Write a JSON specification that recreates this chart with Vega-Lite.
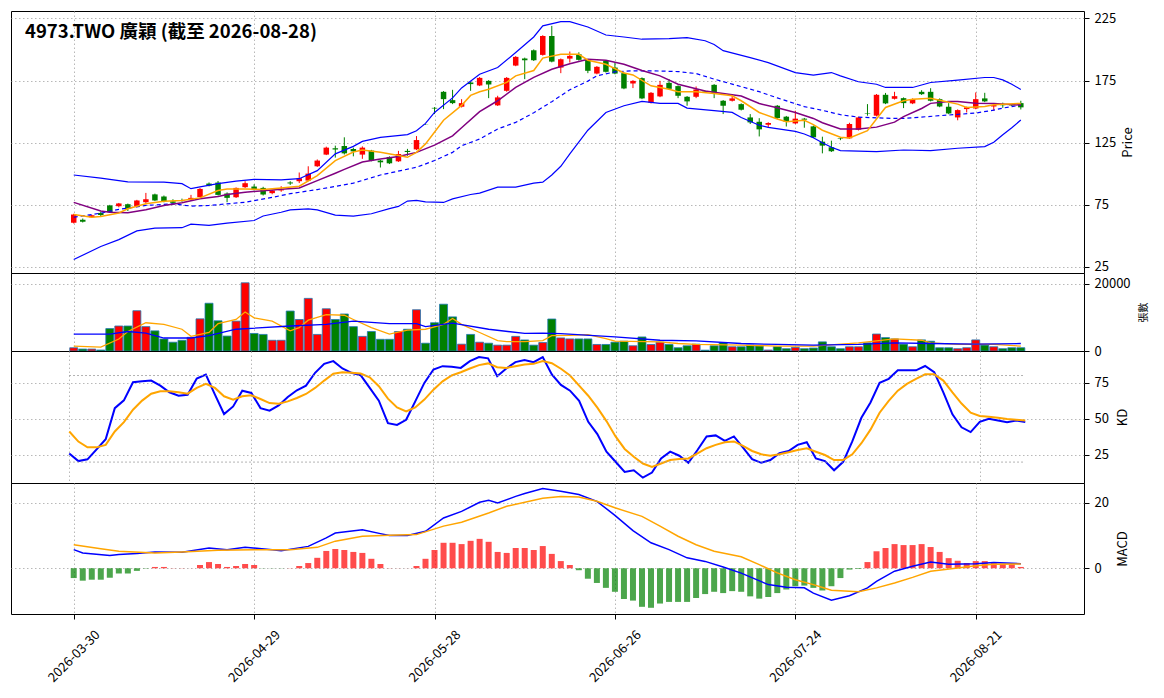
{
  "$schema": "https://vega.github.io/schema/vega-lite/v6.json",
  "background": "white",
  "padding": {"left": 10, "top": 10, "right": 5, "bottom": 5},
  "spacing": 0,
  "bounds": "flush",
  "config": {
    "font": "Noto Sans CJK TC",
    "view": {"stroke": "black", "strokeWidth": 1},
    "axis": {
      "grid": true,
      "gridColor": "#b0b0b0",
      "gridDash": [1.5, 2.5],
      "gridWidth": 0.9,
      "domain": false,
      "labelFont": "Noto Sans CJK TC",
      "labelFontSize": 13,
      "labelColor": "black",
      "labelPadding": 5,
      "tickColor": "black",
      "tickSize": 5,
      "titleFont": "Noto Sans CJK TC",
      "titleFontSize": 13,
      "titleFontWeight": "normal",
      "titleColor": "black"
    }
  },
  "datasets": {
    "bars": [
      {"i":0,"o":60.6,"h":67.8,"l":60,"c":67.2,"v":966,"k":26,"d":41.2,"m":-3},
      {"i":1,"o":63,"h":64,"l":60.8,"c":61.4,"v":580,"k":20.7,"d":34.2,"m":-3.8},
      {"i":2,"o":65,"h":67,"l":64.5,"c":66.6,"v":580,"k":21.9,"d":30.2,"m":-3.5},
      {"i":3,"o":68.5,"h":69.5,"l":66,"c":66.8,"v":290,"k":28.8,"d":30.2,"m":-3.5},
      {"i":4,"o":74.5,"h":75,"l":68.5,"c":69.1,"v":6667,"k":35.8,"d":31.9,"m":-2.9},
      {"i":5,"o":73.9,"h":76.5,"l":73,"c":76.1,"v":7440,"k":57.4,"d":41.2,"m":-1.6},
      {"i":6,"o":75.5,"h":76,"l":70,"c":71.8,"v":7440,"k":62.8,"d":47.7,"m":-1.6},
      {"i":7,"o":73.7,"h":79,"l":73,"c":78.5,"v":11980,"k":75.3,"d":56.3,"m":-0.8},
      {"i":8,"o":77.1,"h":84.6,"l":76.5,"c":79.5,"v":7246,"k":76,"d":62.6,"m":-0.1},
      {"i":9,"o":83.4,"h":84,"l":78,"c":78.5,"v":5990,"k":76.5,"d":67.4,"m":0.4},
      {"i":10,"o":81.7,"h":82.5,"l":77,"c":77.9,"v":3575,"k":73,"d":69.1,"m":0.4},
      {"i":11,"o":77.8,"h":79.5,"l":75.5,"c":76.6,"v":2609,"k":68.4,"d":69.1,"m":0.05},
      {"i":12,"o":78.6,"h":80,"l":77.5,"c":78.4,"v":3188,"k":66,"d":68.4,"m":0.05},
      {"i":13,"o":79,"h":83,"l":78.5,"c":80.6,"v":4058,"k":66.7,"d":67.4,"m":0.02},
      {"i":14,"o":81.2,"h":88.5,"l":81,"c":87.8,"v":9565,"k":77.9,"d":71.4,"m":1},
      {"i":15,"o":92.1,"h":93,"l":89.8,"c":90.5,"v":14203,"k":80.7,"d":74.2,"m":1.9},
      {"i":16,"o":92.9,"h":94.2,"l":82.5,"c":83,"v":8985,"k":66.7,"d":71.4,"m":1.3},
      {"i":17,"o":84.1,"h":85,"l":77.1,"c":80.6,"v":4444,"k":53.3,"d":65.6,"m":0.4},
      {"i":18,"o":81.1,"h":89,"l":80.5,"c":88.6,"v":8889,"k":58.6,"d":63.3,"m":0.7},
      {"i":19,"o":89.2,"h":94,"l":88.5,"c":92.4,"v":20290,"k":69.5,"d":65.6,"m":1.3},
      {"i":20,"o":89.7,"h":91.5,"l":86.5,"c":87.3,"v":5217,"k":67.9,"d":66.3,"m":1},
      {"i":21,"o":88.6,"h":89.5,"l":82.5,"c":83.3,"v":4928,"k":57.4,"d":63.7,"m":-0.05},
      {"i":22,"o":84.4,"h":87,"l":83.5,"c":86.5,"v":3188,"k":55.6,"d":60.9,"m":-0.05},
      {"i":23,"o":86.6,"h":90,"l":85.5,"c":87.4,"v":3188,"k":59.3,"d":60.5,"m":-0.05},
      {"i":24,"o":93,"h":94,"l":91,"c":92.2,"v":11884,"k":65.1,"d":62.1,"m":0.05},
      {"i":25,"o":94,"h":101,"l":92.5,"c":96.4,"v":9372,"k":69.8,"d":64.4,"m":0.7},
      {"i":26,"o":94.5,"h":106,"l":94,"c":100.1,"v":15652,"k":73,"d":67.2,"m":1.6},
      {"i":27,"o":106,"h":111.5,"l":105.5,"c":110.6,"v":4928,"k":81.9,"d":71.4,"m":3.2},
      {"i":28,"o":115.4,"h":121.8,"l":115,"c":121,"v":12560,"k":88.1,"d":76.5,"m":5.3},
      {"i":29,"o":120.5,"h":122.6,"l":113,"c":119.5,"v":9372,"k":90,"d":81.2,"m":5.9},
      {"i":30,"o":122.3,"h":129.3,"l":115.5,"c":116.4,"v":11014,"k":84.9,"d":82.3,"m":5.6},
      {"i":31,"o":119.9,"h":121,"l":114,"c":118,"v":7246,"k":81.9,"d":81.9,"m":5},
      {"i":32,"o":115.4,"h":122,"l":112,"c":121,"v":4348,"k":80.2,"d":81.4,"m":4.7},
      {"i":33,"o":118.6,"h":119.2,"l":110,"c":110.6,"v":5797,"k":71.4,"d":78.8,"m":2.9},
      {"i":34,"o":110.6,"h":111.2,"l":105,"c":109.2,"v":3478,"k":62.6,"d":72.6,"m":1.3},
      {"i":35,"o":113.5,"h":114,"l":107.8,"c":108.4,"v":3478,"k":47,"d":64,"m":0.05},
      {"i":36,"o":110,"h":118.4,"l":109.5,"c":115.9,"v":5797,"k":45.8,"d":57.9,"m":0.03},
      {"i":37,"o":118.4,"h":120,"l":114.5,"c":117.5,"v":6473,"k":49.3,"d":55.1,"m":0.02},
      {"i":38,"o":119.6,"h":130.3,"l":119,"c":127.1,"v":12270,"k":62.1,"d":57.9,"m":0.7},
      {"i":39,"o":139.7,"h":139.8,"l":139.3,"c":139.5,"v":2319,"k":74.9,"d":63.3,"m":2.9},
      {"i":40,"o":153,"h":153.6,"l":148,"c":152.5,"v":8406,"k":84.2,"d":70.2,"m":5.6},
      {"i":41,"o":165.9,"h":166.5,"l":152,"c":160,"v":13913,"k":86.5,"d":76,"m":7.8},
      {"i":42,"o":159.2,"h":167.5,"l":156,"c":156.8,"v":10145,"k":86,"d":80,"m":7.8},
      {"i":43,"o":153.9,"h":160,"l":153.3,"c":156.8,"v":2029,"k":85.3,"d":82.3,"m":7.4},
      {"i":44,"o":173.4,"h":174,"l":166.7,"c":172.1,"v":4928,"k":90,"d":84.9,"m":8.4},
      {"i":45,"o":171,"h":177.8,"l":170.5,"c":177.1,"v":2609,"k":92.8,"d":87.2,"m":9},
      {"i":46,"o":174.7,"h":175.3,"l":160.8,"c":171.8,"v":2319,"k":91.9,"d":88.4,"m":8.1},
      {"i":47,"o":155,"h":162.7,"l":154.5,"c":161.4,"v":1739,"k":79.5,"d":85.8,"m":5},
      {"i":48,"o":166.7,"h":177.8,"l":166,"c":177.1,"v":1739,"k":84.9,"d":85.3,"m":4.7},
      {"i":49,"o":187,"h":194.6,"l":186.5,"c":194,"v":4348,"k":89.3,"d":86.5,"m":6.2},
      {"i":50,"o":192.6,"h":193.4,"l":176.1,"c":191.3,"v":3285,"k":90.7,"d":87.7,"m":6.2},
      {"i":51,"o":199.3,"h":200,"l":190.7,"c":191.3,"v":1739,"k":89.3,"d":88.1,"m":5.6},
      {"i":52,"o":195.6,"h":211.4,"l":195,"c":210.8,"v":2512,"k":92.8,"d":90,"m":6.8},
      {"i":53,"o":210.8,"h":218.9,"l":189.6,"c":190.2,"v":9515,"k":80.8,"d":88.5,"m":4.4},
      {"i":54,"o":185.4,"h":192.7,"l":180.9,"c":192.1,"v":3883,"k":73.5,"d":84.7,"m":2.2},
      {"i":55,"o":192.6,"h":198.3,"l":189.4,"c":194.8,"v":3592,"k":69.5,"d":80,"m":1},
      {"i":56,"o":196.1,"h":197.7,"l":191,"c":191.6,"v":3592,"k":62.4,"d":73,"m":-0.6},
      {"i":57,"o":191.6,"h":192.2,"l":180.9,"c":182.8,"v":3592,"k":47.9,"d":66,"m":-3.2},
      {"i":58,"o":180.6,"h":186.6,"l":180,"c":186,"v":1942,"k":39.4,"d":57.7,"m":-4.5},
      {"i":59,"o":190.8,"h":191.4,"l":181.4,"c":182,"v":1942,"k":27.2,"d":48.4,"m":-6},
      {"i":60,"o":185.4,"h":189.4,"l":180,"c":180.6,"v":2621,"k":20.2,"d":37.8,"m":-7.2},
      {"i":61,"o":180.9,"h":181.5,"l":168,"c":168.6,"v":2913,"k":13.1,"d":29.1,"m":-9.4},
      {"i":62,"o":172.6,"h":175.3,"l":168.9,"c":174.7,"v":1553,"k":14.3,"d":23.7,"m":-9.9},
      {"i":63,"o":176.9,"h":177.5,"l":160,"c":160.6,"v":4175,"k":9.2,"d":19,"m":-11.8},
      {"i":64,"o":157.1,"h":165.7,"l":156.5,"c":165.1,"v":1942,"k":12.7,"d":16.7,"m":-12.1},
      {"i":65,"o":162.2,"h":174.7,"l":161.6,"c":171.5,"v":2621,"k":22.5,"d":19,"m":-10.8},
      {"i":66,"o":173.1,"h":176.1,"l":167.7,"c":168.3,"v":1942,"k":27.2,"d":21.4,"m":-10.3},
      {"i":67,"o":170.5,"h":171.1,"l":160.8,"c":162.7,"v":971,"k":24.4,"d":22.1,"m":-10.3},
      {"i":68,"o":161.9,"h":162.5,"l":154.7,"c":158.2,"v":1553,"k":19.5,"d":22.5,"m":-10.3},
      {"i":69,"o":161.9,"h":170.2,"l":160.8,"c":167.8,"v":2039,"k":28.4,"d":26.1,"m":-9.1},
      {"i":70,"o":166.2,"h":167,"l":165,"c":165.8,"v":250,"k":37.8,"d":29.6,"m":-7.9},
      {"i":71,"o":171.5,"h":172.1,"l":160.8,"c":164.6,"v":1553,"k":38.5,"d":31.9,"m":-7.2},
      {"i":72,"o":158.7,"h":159.3,"l":148,"c":154.7,"v":2427,"k":34.7,"d":33.8,"m":-7.6},
      {"i":73,"o":158.7,"h":162.7,"l":158.1,"c":160.6,"v":1262,"k":37.8,"d":34.3,"m":-7},
      {"i":74,"o":156,"h":156.6,"l":150.9,"c":151.5,"v":1262,"k":30,"d":31.2,"m":-7.2},
      {"i":75,"o":145.3,"h":148,"l":140,"c":141.3,"v":1748,"k":22.1,"d":27.7,"m":-8.6},
      {"i":76,"o":141.8,"h":144.7,"l":130,"c":135.7,"v":1553,"k":19.5,"d":25.4,"m":-9.3},
      {"i":77,"o":139.4,"h":141.4,"l":136.8,"c":140.8,"v":291,"k":21.4,"d":24.4,"m":-8.8},
      {"i":78,"o":154.7,"h":155.3,"l":144.2,"c":144.8,"v":1262,"k":26.1,"d":25.4,"m":-7.6},
      {"i":79,"o":145.9,"h":146.5,"l":138,"c":141.8,"v":680,"k":27.7,"d":26.8,"m":-6.5},
      {"i":80,"o":140.5,"h":150.7,"l":139.9,"c":144.3,"v":1068,"k":31.9,"d":28.4,"m":-5.5},
      {"i":81,"o":144.3,"h":144.9,"l":137,"c":143.5,"v":680,"k":33.8,"d":29.6,"m":-5.3},
      {"i":82,"o":138.1,"h":138.7,"l":128.7,"c":129.3,"v":874,"k":22.5,"d":27.2,"m":-6},
      {"i":83,"o":125.8,"h":129.8,"l":116.4,"c":122.6,"v":2718,"k":20.7,"d":24.9,"m":-6.8},
      {"i":84,"o":121.3,"h":126.6,"l":117.5,"c":118.1,"v":1262,"k":14.3,"d":21.4,"m":-5.5},
      {"i":85,"o":128.6,"h":129.5,"l":127,"c":128.2,"v":680,"k":20.2,"d":21.4,"m":-3},
      {"i":86,"o":128.5,"h":141,"l":128,"c":140,"v":1262,"k":34.3,"d":25.4,"m":-0.4},
      {"i":87,"o":135.4,"h":145.9,"l":134.8,"c":145.3,"v":1262,"k":50.7,"d":33.1,"m":-0.2},
      {"i":88,"o":148.7,"h":156,"l":146.7,"c":148.3,"v":2427,"k":61.3,"d":42.5,"m":1.9},
      {"i":89,"o":146.7,"h":164.1,"l":146.1,"c":163.5,"v":5049,"k":74.9,"d":54.2,"m":5.2},
      {"i":90,"o":163.5,"h":165,"l":156,"c":156.6,"v":3981,"k":77.7,"d":62.4,"m":6.2},
      {"i":91,"o":160.3,"h":165.9,"l":159.7,"c":162.4,"v":3592,"k":83.6,"d":69.5,"m":7.4},
      {"i":92,"o":160.8,"h":161.4,"l":152.8,"c":156.8,"v":2039,"k":83.6,"d":74.2,"m":7.1},
      {"i":93,"o":156.6,"h":160.6,"l":156,"c":160,"v":1262,"k":83.6,"d":77.7,"m":7.1},
      {"i":94,"o":165.9,"h":167.2,"l":163.4,"c":164,"v":3301,"k":86.6,"d":80.8,"m":7.4},
      {"i":95,"o":165.9,"h":168.8,"l":158.2,"c":158.7,"v":2913,"k":82.4,"d":80.8,"m":6.5},
      {"i":96,"o":160,"h":160.6,"l":153.5,"c":154.1,"v":971,"k":68.3,"d":76.5,"m":5},
      {"i":97,"o":153.9,"h":156.8,"l":147.9,"c":148.5,"v":971,"k":53.1,"d":68.3,"m":3.1},
      {"i":98,"o":145.3,"h":151.8,"l":143,"c":151.2,"v":680,"k":44.1,"d":60.6,"m":2.3},
      {"i":99,"o":152,"h":154,"l":149.3,"c":153.4,"v":971,"k":40.8,"d":54.2,"m":1.6},
      {"i":100,"o":152.5,"h":165.4,"l":151.9,"c":160,"v":3301,"k":47.9,"d":51.9,"m":2.2},
      {"i":101,"o":160.6,"h":165.1,"l":157.6,"c":158.2,"v":1748,"k":50,"d":51.4,"m":2.2},
      {"i":102,"o":154.1,"h":155.8,"l":150.7,"c":155.2,"v":1262,"k":48.8,"d":50.7,"m":1.6},
      {"i":103,"o":155.6,"h":157.2,"l":153,"c":155.1,"v":680,"k":47.7,"d":49.8,"m":1.4},
      {"i":104,"o":155.3,"h":155.8,"l":154.4,"c":155,"v":971,"k":48.8,"d":49.3,"m":1.2},
      {"i":105,"o":156.8,"h":158.7,"l":151.7,"c":153.4,"v":971,"k":47.7,"d":48.8,"m":0.4}
    ],
    "ln": [
      {"s":"u","i":0,"v":99},{"s":"u","i":3,"v":96.5},{"s":"u","i":6,"v":93.5},{"s":"u","i":10,"v":93.2},{"s":"u","i":12,"v":92},{"s":"u","i":13,"v":88},{"s":"u","i":14,"v":89.5},{"s":"u","i":16,"v":92},{"s":"u","i":18,"v":94},{"s":"u","i":20,"v":95.5},{"s":"u","i":23,"v":95},{"s":"u","i":25,"v":96},{"s":"u","i":27,"v":102.5},{"s":"u","i":29,"v":116},{"s":"u","i":31,"v":122},{"s":"u","i":32,"v":126},{"s":"u","i":34,"v":129.3},{"s":"u","i":37,"v":131.5},{"s":"u","i":38,"v":134.6},{"s":"u","i":39,"v":140.5},{"s":"u","i":40,"v":149.3},{"s":"u","i":42,"v":161},{"s":"u","i":43,"v":169},{"s":"u","i":45,"v":180},{"s":"u","i":47,"v":185.4},{"s":"u","i":49,"v":197.5},{"s":"u","i":51,"v":210},{"s":"u","i":52,"v":219},{"s":"u","i":54,"v":222.3},{"s":"u","i":55,"v":222.3},{"s":"u","i":57,"v":218},{"s":"u","i":59,"v":211.6},{"s":"u","i":61,"v":210},{"s":"u","i":63,"v":208.2},{"s":"u","i":66,"v":208.7},{"s":"u","i":68,"v":209.5},{"s":"u","i":70,"v":207},{"s":"u","i":71,"v":204},{"s":"u","i":72,"v":199},{"s":"u","i":75,"v":193.4},{"s":"u","i":77,"v":189.4},{"s":"u","i":80,"v":181.4},{"s":"u","i":82,"v":179.3},{"s":"u","i":84,"v":181.4},{"s":"u","i":85,"v":178.7},{"s":"u","i":87,"v":174},{"s":"u","i":89,"v":172},{"s":"u","i":90,"v":169.4},{"s":"u","i":93,"v":169.4},{"s":"u","i":95,"v":173.4},{"s":"u","i":98,"v":175.3},{"s":"u","i":101,"v":177.4},{"s":"u","i":102,"v":177.4},{"s":"u","i":103,"v":175.5},{"s":"u","i":104,"v":172},{"s":"u","i":105,"v":167.8},
      {"s":"lo","i":0,"v":31},{"s":"lo","i":3,"v":41.5},{"s":"lo","i":5,"v":47},{"s":"lo","i":7,"v":54},{"s":"lo","i":9,"v":56.3},{"s":"lo","i":12,"v":56.6},{"s":"lo","i":13,"v":59.5},{"s":"lo","i":15,"v":58.4},{"s":"lo","i":17,"v":60.3},{"s":"lo","i":20,"v":62.4},{"s":"lo","i":21,"v":66},{"s":"lo","i":23,"v":69},{"s":"lo","i":24,"v":71},{"s":"lo","i":26,"v":71.8},{"s":"lo","i":27,"v":71},{"s":"lo","i":29,"v":66.7},{"s":"lo","i":31,"v":65.9},{"s":"lo","i":33,"v":67.8},{"s":"lo","i":35,"v":72},{"s":"lo","i":36,"v":73.7},{"s":"lo","i":37,"v":78},{"s":"lo","i":38,"v":78.5},{"s":"lo","i":39,"v":77.4},{"s":"lo","i":41,"v":76.9},{"s":"lo","i":42,"v":79.8},{"s":"lo","i":44,"v":83.3},{"s":"lo","i":45,"v":84.4},{"s":"lo","i":47,"v":89.2},{"s":"lo","i":49,"v":89.2},{"s":"lo","i":51,"v":92.4},{"s":"lo","i":52,"v":93.2},{"s":"lo","i":53,"v":99},{"s":"lo","i":54,"v":106},{"s":"lo","i":55,"v":116},{"s":"lo","i":57,"v":135},{"s":"lo","i":59,"v":149.3},{"s":"lo","i":61,"v":154.7},{"s":"lo","i":63,"v":158.2},{"s":"lo","i":65,"v":156.6},{"s":"lo","i":67,"v":156.6},{"s":"lo","i":68,"v":152.8},{"s":"lo","i":71,"v":150.7},{"s":"lo","i":73,"v":149.3},{"s":"lo","i":74,"v":145.3},{"s":"lo","i":76,"v":139},{"s":"lo","i":77,"v":137.3},{"s":"lo","i":80,"v":134.1},{"s":"lo","i":81,"v":132},{"s":"lo","i":82,"v":129},{"s":"lo","i":83,"v":125},{"s":"lo","i":84,"v":121.3},{"s":"lo","i":85,"v":118.6},{"s":"lo","i":89,"v":117.8},{"s":"lo","i":92,"v":119.1},{"s":"lo","i":95,"v":118.6},{"s":"lo","i":98,"v":120.5},{"s":"lo","i":101,"v":121.8},{"s":"lo","i":102,"v":125.3},{"s":"lo","i":103,"v":131.4},{"s":"lo","i":104,"v":137},{"s":"lo","i":105,"v":143.2},
      {"s":"mid","i":0,"v":65},{"s":"mid","i":3,"v":68.3},{"s":"mid","i":5,"v":71.3},{"s":"mid","i":8,"v":74.5},{"s":"mid","i":11,"v":75.8},{"s":"mid","i":13,"v":74},{"s":"mid","i":15,"v":74.5},{"s":"mid","i":19,"v":77.1},{"s":"mid","i":22,"v":81},{"s":"mid","i":24,"v":84},{"s":"mid","i":27,"v":87.3},{"s":"mid","i":31,"v":92.4},{"s":"mid","i":34,"v":99},{"s":"mid","i":38,"v":105.2},{"s":"mid","i":40,"v":110.6},{"s":"mid","i":42,"v":117.2},{"s":"mid","i":43,"v":122.5},{"s":"mid","i":45,"v":127.9},{"s":"mid","i":47,"v":136},{"s":"mid","i":49,"v":141.3},{"s":"mid","i":51,"v":149},{"s":"mid","i":53,"v":158},{"s":"mid","i":55,"v":167.5},{"s":"mid","i":57,"v":174.5},{"s":"mid","i":58,"v":178.7},{"s":"mid","i":60,"v":182},{"s":"mid","i":62,"v":182.8},{"s":"mid","i":64,"v":182.8},{"s":"mid","i":67,"v":182.2},{"s":"mid","i":69,"v":180.6},{"s":"mid","i":71,"v":176.1},{"s":"mid","i":73,"v":172.1},{"s":"mid","i":76,"v":166},{"s":"mid","i":78,"v":161},{"s":"mid","i":81,"v":154},{"s":"mid","i":83,"v":151},{"s":"mid","i":85,"v":147.5},{"s":"mid","i":87,"v":145.5},{"s":"mid","i":91,"v":144.5},{"s":"mid","i":92,"v":144.5},{"s":"mid","i":96,"v":146.7},{"s":"mid","i":100,"v":148.8},{"s":"mid","i":102,"v":151.2},{"s":"mid","i":103,"v":152.8},{"s":"mid","i":105,"v":155.2},
      {"s":"m10","i":0,"v":77},{"s":"m10","i":3,"v":70},{"s":"m10","i":4,"v":69},{"s":"m10","i":6,"v":68.6},{"s":"m10","i":8,"v":71},{"s":"m10","i":10,"v":74.5},{"s":"m10","i":12,"v":76.6},{"s":"m10","i":14,"v":79.8},{"s":"m10","i":16,"v":81.7},{"s":"m10","i":17,"v":83.3},{"s":"m10","i":19,"v":85.2},{"s":"m10","i":23,"v":87.5},{"s":"m10","i":25,"v":88.6},{"s":"m10","i":27,"v":94.5},{"s":"m10","i":29,"v":100.4},{"s":"m10","i":30,"v":103.5},{"s":"m10","i":32,"v":109.5},{"s":"m10","i":34,"v":111.9},{"s":"m10","i":36,"v":113.8},{"s":"m10","i":38,"v":117.2},{"s":"m10","i":40,"v":123},{"s":"m10","i":42,"v":130.5},{"s":"m10","i":43,"v":137},{"s":"m10","i":45,"v":150},{"s":"m10","i":47,"v":158.7},{"s":"m10","i":49,"v":169.4},{"s":"m10","i":51,"v":177.5},{"s":"m10","i":53,"v":184},{"s":"m10","i":55,"v":188.5},{"s":"m10","i":57,"v":192.1},{"s":"m10","i":59,"v":191.3},{"s":"m10","i":61,"v":188.1},{"s":"m10","i":63,"v":183},{"s":"m10","i":65,"v":178.7},{"s":"m10","i":67,"v":172},{"s":"m10","i":70,"v":166.5},{"s":"m10","i":72,"v":164.5},{"s":"m10","i":74,"v":162.5},{"s":"m10","i":76,"v":156.5},{"s":"m10","i":78,"v":153},{"s":"m10","i":80,"v":149.3},{"s":"m10","i":82,"v":144.5},{"s":"m10","i":83,"v":141},{"s":"m10","i":85,"v":136},{"s":"m10","i":87,"v":136},{"s":"m10","i":89,"v":137.5},{"s":"m10","i":91,"v":141.5},{"s":"m10","i":92,"v":145.9},{"s":"m10","i":94,"v":152.5},{"s":"m10","i":95,"v":156.6},{"s":"m10","i":97,"v":158.2},{"s":"m10","i":98,"v":158.2},{"s":"m10","i":100,"v":156.8},{"s":"m10","i":102,"v":156.6},{"s":"m10","i":105,"v":155.2},
      {"s":"m5","i":0,"v":67.2},{"s":"m5","i":2,"v":65.1},{"s":"m5","i":3,"v":65.6},{"s":"m5","i":5,"v":68.5},{"s":"m5","i":6,"v":71.8},{"s":"m5","i":8,"v":75.8},{"s":"m5","i":10,"v":77.9},{"s":"m5","i":12,"v":78.5},{"s":"m5","i":14,"v":80.6},{"s":"m5","i":16,"v":86.5},{"s":"m5","i":17,"v":87.8},{"s":"m5","i":19,"v":87.8},{"s":"m5","i":21,"v":87.3},{"s":"m5","i":23,"v":88.5},{"s":"m5","i":25,"v":90},{"s":"m5","i":27,"v":98.5},{"s":"m5","i":29,"v":110.6},{"s":"m5","i":31,"v":117.5},{"s":"m5","i":32,"v":119.1},{"s":"m5","i":34,"v":117.2},{"s":"m5","i":36,"v":114.6},{"s":"m5","i":37,"v":113.2},{"s":"m5","i":38,"v":117.2},{"s":"m5","i":39,"v":124},{"s":"m5","i":41,"v":143},{"s":"m5","i":43,"v":155},{"s":"m5","i":44,"v":163},{"s":"m5","i":45,"v":166},{"s":"m5","i":46,"v":168},{"s":"m5","i":48,"v":173.5},{"s":"m5","i":49,"v":178.7},{"s":"m5","i":51,"v":183},{"s":"m5","i":52,"v":193},{"s":"m5","i":54,"v":196.1},{"s":"m5","i":56,"v":196.1},{"s":"m5","i":57,"v":191.3},{"s":"m5","i":59,"v":188.1},{"s":"m5","i":61,"v":181},{"s":"m5","i":62,"v":179.5},{"s":"m5","i":64,"v":170.7},{"s":"m5","i":66,"v":168},{"s":"m5","i":67,"v":165.9},{"s":"m5","i":69,"v":165.9},{"s":"m5","i":71,"v":164.6},{"s":"m5","i":73,"v":162.7},{"s":"m5","i":74,"v":158.7},{"s":"m5","i":76,"v":149.3},{"s":"m5","i":78,"v":144},{"s":"m5","i":79,"v":141.8},{"s":"m5","i":81,"v":143},{"s":"m5","i":82,"v":139.5},{"s":"m5","i":83,"v":135},{"s":"m5","i":85,"v":129.3},{"s":"m5","i":86,"v":128.7},{"s":"m5","i":88,"v":134.6},{"s":"m5","i":89,"v":144},{"s":"m5","i":90,"v":153.3},{"s":"m5","i":92,"v":158.7},{"s":"m5","i":93,"v":160},{"s":"m5","i":95,"v":160.8},{"s":"m5","i":96,"v":159.2},{"s":"m5","i":98,"v":156},{"s":"m5","i":99,"v":153.3},{"s":"m5","i":101,"v":154.1},{"s":"m5","i":102,"v":155.5},{"s":"m5","i":105,"v":156.6},
      {"s":"v5","i":0,"v":1449},{"s":"v5","i":3,"v":1159},{"s":"v5","i":5,"v":3575},{"s":"v5","i":6,"v":5800},{"s":"v5","i":8,"v":8406},{"s":"v5","i":10,"v":7923},{"s":"v5","i":12,"v":6473},{"s":"v5","i":13,"v":4348},{"s":"v5","i":15,"v":5507},{"s":"v5","i":16,"v":8116},{"s":"v5","i":18,"v":9372},{"s":"v5","i":19,"v":11594},{"s":"v5","i":20,"v":9855},{"s":"v5","i":22,"v":8889},{"s":"v5","i":24,"v":5990},{"s":"v5","i":25,"v":6957},{"s":"v5","i":26,"v":9179},{"s":"v5","i":28,"v":10821},{"s":"v5","i":30,"v":10628},{"s":"v5","i":31,"v":9372},{"s":"v5","i":33,"v":6957},{"s":"v5","i":35,"v":5024},{"s":"v5","i":37,"v":6184},{"s":"v5","i":39,"v":6473},{"s":"v5","i":41,"v":7923},{"s":"v5","i":42,"v":9662},{"s":"v5","i":43,"v":7923},{"s":"v5","i":45,"v":5507},{"s":"v5","i":47,"v":3092},{"s":"v5","i":48,"v":2802},{"s":"v5","i":50,"v":2802},{"s":"v5","i":52,"v":3092},{"s":"v5","i":53,"v":4563},{"s":"v5","i":55,"v":4660},{"s":"v5","i":57,"v":4854},{"s":"v5","i":59,"v":3689},{"s":"v5","i":60,"v":2913},{"s":"v5","i":65,"v":2718},{"s":"v5","i":67,"v":2233},{"s":"v5","i":69,"v":1942},{"s":"v5","i":74,"v":1748},{"s":"v5","i":78,"v":1456},{"s":"v5","i":82,"v":1456},{"s":"v5","i":87,"v":2427},{"s":"v5","i":91,"v":3592},{"s":"v5","i":94,"v":3204},{"s":"v5","i":95,"v":2427},{"s":"v5","i":98,"v":1942},{"s":"v5","i":100,"v":2039},{"s":"v5","i":102,"v":1942},{"s":"v5","i":105,"v":1456},
      {"s":"v20","i":0,"v":5024},{"s":"v20","i":4,"v":5024},{"s":"v20","i":6,"v":5797},{"s":"v20","i":8,"v":5300},{"s":"v20","i":10,"v":3865},{"s":"v20","i":13,"v":3865},{"s":"v20","i":15,"v":4541},{"s":"v20","i":18,"v":6473},{"s":"v20","i":24,"v":7440},{"s":"v20","i":28,"v":7923},{"s":"v20","i":31,"v":8889},{"s":"v20","i":35,"v":8116},{"s":"v20","i":38,"v":8116},{"s":"v20","i":39,"v":7246},{"s":"v20","i":42,"v":8309},{"s":"v20","i":46,"v":6473},{"s":"v20","i":50,"v":5217},{"s":"v20","i":52,"v":5300},{"s":"v20","i":54,"v":5146},{"s":"v20","i":60,"v":4175},{"s":"v20","i":65,"v":3204},{"s":"v20","i":69,"v":3010},{"s":"v20","i":74,"v":2233},{"s":"v20","i":78,"v":1942},{"s":"v20","i":82,"v":1748},{"s":"v20","i":87,"v":1942},{"s":"v20","i":91,"v":2427},{"s":"v20","i":95,"v":2233},{"s":"v20","i":100,"v":2039},{"s":"v20","i":105,"v":2233},
      {"s":"dif","i":0,"v":5.7},{"s":"dif","i":1,"v":4.7},{"s":"dif","i":4,"v":3.9},{"s":"dif","i":5,"v":4.2},{"s":"dif","i":7,"v":4.5},{"s":"dif","i":9,"v":5},{"s":"dif","i":12,"v":4.9},{"s":"dif","i":15,"v":6.2},{"s":"dif","i":17,"v":5.7},{"s":"dif","i":19,"v":6.4},{"s":"dif","i":22,"v":5.7},{"s":"dif","i":23,"v":5.4},{"s":"dif","i":26,"v":6.7},{"s":"dif","i":28,"v":9.3},{"s":"dif","i":29,"v":10.8},{"s":"dif","i":32,"v":11.8},{"s":"dif","i":34,"v":10.6},{"s":"dif","i":35,"v":10},{"s":"dif","i":37,"v":10},{"s":"dif","i":39,"v":11.3},{"s":"dif","i":41,"v":15.4},{"s":"dif","i":43,"v":17.4},{"s":"dif","i":45,"v":20.2},{"s":"dif","i":46,"v":20.8},{"s":"dif","i":47,"v":20},{"s":"dif","i":49,"v":22},{"s":"dif","i":50,"v":22.9},{"s":"dif","i":52,"v":24.4},{"s":"dif","i":54,"v":23.6},{"s":"dif","i":56,"v":22.6},{"s":"dif","i":58,"v":20.5},{"s":"dif","i":60,"v":16.2},{"s":"dif","i":62,"v":11.5},{"s":"dif","i":64,"v":7.8},{"s":"dif","i":66,"v":5.7},{"s":"dif","i":68,"v":3.2},{"s":"dif","i":70,"v":2.1},{"s":"dif","i":72,"v":0.4},{"s":"dif","i":74,"v":-1.5},{"s":"dif","i":77,"v":-5},{"s":"dif","i":79,"v":-5.8},{"s":"dif","i":81,"v":-6},{"s":"dif","i":82,"v":-7.6},{"s":"dif","i":84,"v":-9.8},{"s":"dif","i":86,"v":-8.4},{"s":"dif","i":88,"v":-6},{"s":"dif","i":89,"v":-4},{"s":"dif","i":91,"v":-0.9},{"s":"dif","i":93,"v":0.6},{"s":"dif","i":95,"v":1.9},{"s":"dif","i":97,"v":1.2},{"s":"dif","i":100,"v":1.4},{"s":"dif","i":102,"v":1.8},{"s":"dif","i":105,"v":1.4},
      {"s":"sig","i":0,"v":7.2},{"s":"sig","i":3,"v":6},{"s":"sig","i":5,"v":5.2},{"s":"sig","i":9,"v":4.7},{"s":"sig","i":12,"v":5},{"s":"sig","i":16,"v":5.5},{"s":"sig","i":20,"v":5.7},{"s":"sig","i":24,"v":5.7},{"s":"sig","i":27,"v":6.4},{"s":"sig","i":29,"v":8.3},{"s":"sig","i":32,"v":9.8},{"s":"sig","i":35,"v":10.1},{"s":"sig","i":38,"v":10.3},{"s":"sig","i":41,"v":12.9},{"s":"sig","i":43,"v":14.1},{"s":"sig","i":46,"v":16.9},{"s":"sig","i":48,"v":19},{"s":"sig","i":52,"v":21.4},{"s":"sig","i":54,"v":22},{"s":"sig","i":56,"v":21.8},{"s":"sig","i":58,"v":20.5},{"s":"sig","i":60,"v":18.5},{"s":"sig","i":63,"v":15.9},{"s":"sig","i":65,"v":12.9},{"s":"sig","i":67,"v":9.8},{"s":"sig","i":69,"v":7.2},{"s":"sig","i":71,"v":5.2},{"s":"sig","i":74,"v":3.5},{"s":"sig","i":76,"v":1.1},{"s":"sig","i":78,"v":-1.4},{"s":"sig","i":80,"v":-3.5},{"s":"sig","i":82,"v":-5},{"s":"sig","i":84,"v":-6.7},{"s":"sig","i":87,"v":-7.2},{"s":"sig","i":89,"v":-6},{"s":"sig","i":91,"v":-4.5},{"s":"sig","i":93,"v":-2.8},{"s":"sig","i":95,"v":-0.9},{"s":"sig","i":98,"v":0.1},{"s":"sig","i":100,"v":0.8},{"s":"sig","i":102,"v":1.2},{"s":"sig","i":105,"v":1.3}
    ]
  },
  "vconcat": [
    {
      "width": 1073,
      "height": 262,
      "layer": [
        {
          "data": {"name": "bars"},
          "mark": {"type": "rule", "strokeWidth": 1},
          "encoding": {
            "x": {"field": "i", "type": "quantitative", "scale": {"domain": [-6.4, 111.45], "nice": false, "zero": false},
                  "axis": {"values": [0, 20, 40, 60, 80, 100], "labels": false, "ticks": false, "title": null}},
            "y": {"field": "l", "type": "quantitative", "scale": {"domain": [20.17, 230.9], "nice": false, "zero": false},
                  "axis": {"orient": "right", "values": [25, 50, 75, 100, 125, 150, 175, 200, 225], "title": "Price", "titleAngle": -90, "titleBaseline": "top", "titlePadding": 6}},
            "y2": {"field": "h"},
            "color": {"condition": {"test": "datum.c >= datum.o", "value": "#ff0000"}, "value": "#008000"}
          }
        },
        {
          "data": {"name": "bars"},
          "mark": {"type": "bar", "width": 5.5},
          "encoding": {
            "x": {"field": "i", "type": "quantitative"},
            "y": {"field": "o", "type": "quantitative"},
            "y2": {"field": "c"},
            "color": {"condition": {"test": "datum.c >= datum.o", "value": "#ff0000"}, "value": "#008000"}
          }
        },
        {
          "data": {"name": "ln"},
          "transform": [{"filter": "datum.s === 'u' || datum.s === 'lo'"}],
          "mark": {"type": "line", "color": "blue", "strokeWidth": 1.2},
          "encoding": {"x": {"field": "i", "type": "quantitative"}, "y": {"field": "v", "type": "quantitative"}, "detail": {"field": "s"}}
        },
        {
          "data": {"name": "ln"},
          "transform": [{"filter": "datum.s === 'mid'"}],
          "mark": {"type": "line", "color": "blue", "strokeWidth": 1.2, "strokeDash": [4, 3]},
          "encoding": {"x": {"field": "i", "type": "quantitative"}, "y": {"field": "v", "type": "quantitative"}}
        },
        {
          "data": {"name": "ln"},
          "transform": [{"filter": "datum.s === 'm10'"}],
          "mark": {"type": "line", "color": "purple", "strokeWidth": 1.5},
          "encoding": {"x": {"field": "i", "type": "quantitative"}, "y": {"field": "v", "type": "quantitative"}}
        },
        {
          "data": {"name": "ln"},
          "transform": [{"filter": "datum.s === 'm5'"}],
          "mark": {"type": "line", "color": "orange", "strokeWidth": 1.5},
          "encoding": {"x": {"field": "i", "type": "quantitative"}, "y": {"field": "v", "type": "quantitative"}}
        },
        {
          "data": {"values": [{"t": "4973.TWO 廣穎 (截至 2026-08-28)"}]},
          "mark": {"type": "text", "align": "left", "baseline": "middle", "fontSize": 18.5, "fontWeight": "bold", "color": "black", "font": "Noto Sans CJK TC"},
          "encoding": {"x": {"datum": -5.4, "type": "quantitative"}, "y": {"datum": 214, "type": "quantitative"}, "text": {"field": "t"}}
        }
      ]
    },
    {
      "width": 1073,
      "height": 78,
      "layer": [
        {
          "data": {"name": "bars"},
          "mark": {"type": "bar", "width": 8, "stroke": "#1f77b4", "strokeWidth": 0.8},
          "encoding": {
            "x": {"field": "i", "type": "quantitative", "scale": {"domain": [-6.4, 111.45], "nice": false, "zero": false},
                  "axis": {"values": [0, 20, 40, 60, 80, 100], "labels": false, "ticks": false, "title": null}},
            "y": {"field": "v", "type": "quantitative", "scale": {"domain": [0, 23200], "nice": false},
                  "axis": {"orient": "right", "values": [0, 20000], "format": "d", "title": "張數", "titleFontSize": 10, "titleAngle": -90, "titleBaseline": "top", "titlePadding": 8}},
            "color": {"condition": {"test": "datum.c >= datum.o", "value": "#ff0000"}, "value": "#008000"}
          }
        },
        {
          "data": {"name": "ln"},
          "transform": [{"filter": "datum.s === 'v5'"}],
          "mark": {"type": "line", "color": "orange", "strokeWidth": 1.3},
          "encoding": {"x": {"field": "i", "type": "quantitative"}, "y": {"field": "v", "type": "quantitative"}}
        },
        {
          "data": {"name": "ln"},
          "transform": [{"filter": "datum.s === 'v20'"}],
          "mark": {"type": "line", "color": "blue", "strokeWidth": 1.3},
          "encoding": {"x": {"field": "i", "type": "quantitative"}, "y": {"field": "v", "type": "quantitative"}}
        }
      ]
    },
    {
      "width": 1073,
      "height": 132,
      "layer": [
        {
          "data": {"name": "bars"},
          "mark": {"type": "line", "color": "blue", "strokeWidth": 2},
          "encoding": {
            "x": {"field": "i", "type": "quantitative", "scale": {"domain": [-6.4, 111.45], "nice": false, "zero": false},
                  "axis": {"values": [0, 20, 40, 60, 80, 100], "labels": false, "ticks": false, "title": null}},
            "y": {"field": "k", "type": "quantitative", "scale": {"domain": [5.5, 97], "nice": false, "zero": false},
                  "axis": {"orient": "right", "values": [25, 50, 75], "title": "KD", "titleAngle": -90, "titleBaseline": "top", "titlePadding": 8}}
          }
        },
        {
          "data": {"name": "bars"},
          "mark": {"type": "line", "color": "orange", "strokeWidth": 2},
          "encoding": {"x": {"field": "i", "type": "quantitative"}, "y": {"field": "d", "type": "quantitative"}}
        },
        {
          "data": {"values": [{"lvl": 80}, {"lvl": 20}]},
          "mark": {"type": "rule", "color": "#999999", "strokeDash": [1.5, 2.5], "strokeWidth": 1},
          "encoding": {
            "x": {"datum": 0, "type": "quantitative"},
            "x2": {"datum": 105},
            "y": {"field": "lvl", "type": "quantitative"}
          }
        }
      ]
    },
    {
      "width": 1073,
      "height": 131,
      "layer": [
        {
          "data": {"name": "bars"},
          "mark": {"type": "bar", "width": 6, "opacity": 0.7},
          "encoding": {
            "x": {"field": "i", "type": "quantitative", "scale": {"domain": [-6.4, 111.45], "nice": false, "zero": false},
                  "axis": {"values": [0, 20, 40, 60, 80, 100], "title": null, "labelAngle": -45, "labelAlign": "center", "labelBaseline": "middle", "labelPadding": 37,
                           "labelExpr": "['2026-03-30','2026-04-29','2026-05-28','2026-06-26','2026-07-24','2026-08-21'][round(datum.value / 20)]"}},
            "y": {"field": "m", "type": "quantitative", "scale": {"domain": [-14, 26.1], "nice": false, "zero": false},
                  "axis": {"orient": "right", "values": [0, 20], "title": "MACD", "titleAngle": -90, "titleBaseline": "top", "titlePadding": 8}},
            "y2": {"datum": 0},
            "color": {"condition": {"test": "datum.m >= 0", "value": "#ff0000"}, "value": "#008000"}
          }
        },
        {
          "data": {"name": "ln"},
          "transform": [{"filter": "datum.s === 'dif'"}],
          "mark": {"type": "line", "color": "blue", "strokeWidth": 1.5},
          "encoding": {"x": {"field": "i", "type": "quantitative"}, "y": {"field": "v", "type": "quantitative"}}
        },
        {
          "data": {"name": "ln"},
          "transform": [{"filter": "datum.s === 'sig'"}],
          "mark": {"type": "line", "color": "orange", "strokeWidth": 1.5},
          "encoding": {"x": {"field": "i", "type": "quantitative"}, "y": {"field": "v", "type": "quantitative"}}
        }
      ]
    }
  ]
}
